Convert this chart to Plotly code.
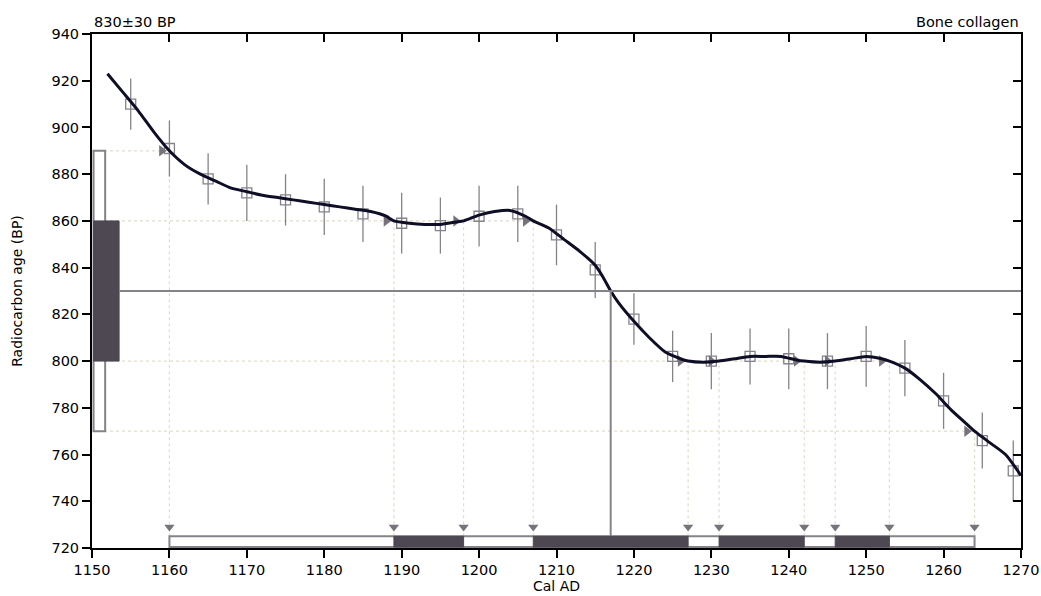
import plotly.graph_objects as go

# ---- data ----
curve_x = [1152, 1154, 1156, 1158, 1160, 1162, 1164, 1166, 1168, 1170, 1172, 1174, 1176, 1178, 1180,
           1182, 1184, 1186, 1188, 1189, 1191, 1193, 1195, 1197, 1198, 1200, 1202, 1204, 1206, 1207,
           1209, 1211, 1213, 1215, 1216, 1217, 1218, 1220, 1222, 1224, 1226, 1227, 1229, 1231, 1233,
           1235, 1237, 1239, 1241, 1242, 1244, 1246, 1248, 1250, 1252, 1253, 1255, 1257, 1259, 1261,
           1263, 1264, 1266, 1268, 1270]
curve_y = [923, 915, 907, 898, 890, 884, 880, 877, 874, 872.5, 871, 870, 869, 868, 867,
           866, 865, 864, 862, 860, 859, 858.5, 858.5, 859.5, 860, 862.5, 864, 864.5, 862, 860,
           857, 852, 847, 841, 836, 830, 825, 817, 810, 804, 801, 800, 799.5, 800, 801,
           802, 802, 802, 800.5, 800, 799.5, 800, 801, 802, 801, 800, 797, 792, 786, 779,
           773, 770, 765, 760, 751]

pt_x = [1155, 1160, 1165, 1170, 1175, 1180, 1185, 1190, 1195, 1200, 1205, 1210,
        1215, 1220, 1225, 1230, 1235, 1240, 1245, 1250, 1255, 1260, 1265, 1269]
pt_y = [910, 891, 878, 872, 869, 866, 863, 859, 858, 862, 863, 854,
        839, 818, 802, 800, 802, 801, 800, 802, 797, 783, 766, 753]
pt_err = [11, 12, 11, 12, 11, 12, 12, 13, 12, 13, 12, 13,
          12, 11, 11, 12, 12, 13, 12, 13, 12, 12, 12, 13]

c14_age = 830
sigma1 = [800, 860]
sigma2 = [770, 890]
calib_median = 1217

# boundaries where the curve crosses the sigma levels (x, level)
bound_x = [1160, 1189, 1198, 1207, 1227, 1231, 1242, 1246, 1253, 1264]
bound_y = [890, 860, 860, 860, 800, 800, 800, 800, 800, 770]

range2 = [1160, 1264]
range1 = [[1189, 1198], [1207, 1227], [1231, 1242], [1246, 1253]]

x_ticks = [1150, 1160, 1170, 1180, 1190, 1200, 1210, 1220, 1230, 1240, 1250, 1260, 1270]
y_ticks = [720, 740, 760, 780, 800, 820, 840, 860, 880, 900, 920, 940]

DARK = "#4d4852"
GRAY = "#86828a"
DOT = "#e2decb"

fig = go.Figure()

shapes = []
# dotted guide lines
for bx, by in zip(bound_x, bound_y):
    shapes.append(dict(type="line", x0=bx, x1=bx, y0=725, y1=by,
                       line=dict(color=DOT, width=1.2, dash="dot"), layer="below"))
for lvl, x_end in [(sigma2[1], bound_x[0]), (sigma1[1], bound_x[3]),
                   (sigma1[0], bound_x[8]), (sigma2[0], bound_x[9])]:
    shapes.append(dict(type="line", x0=1150, x1=x_end, y0=lvl, y1=lvl,
                       line=dict(color=DOT, width=1.2, dash="dot"), layer="below"))

# left probability boxes
shapes.append(dict(type="rect", x0=1150.2, x1=1151.7, y0=sigma2[0], y1=sigma2[1],
                   line=dict(color=GRAY, width=2), fillcolor="white"))
shapes.append(dict(type="rect", x0=1150.2, x1=1153.5, y0=sigma1[0], y1=sigma1[1],
                   line=dict(color=DARK, width=1), fillcolor=DARK))
# horizontal age line and vertical median line
shapes.append(dict(type="line", x0=1153.5, x1=1270, y0=c14_age, y1=c14_age,
                   line=dict(color=GRAY, width=2)))
shapes.append(dict(type="line", x0=calib_median, x1=calib_median, y0=720, y1=c14_age,
                   line=dict(color=GRAY, width=2)))
# bottom range bars
shapes.append(dict(type="rect", x0=range2[0], x1=range2[1], y0=720.4, y1=725,
                   line=dict(color=GRAY, width=2), fillcolor="white"))
for a, b in range1:
    shapes.append(dict(type="rect", x0=a, x1=b, y0=720.4, y1=725,
                       line=dict(color=DARK, width=1), fillcolor=DARK))

# error bars
fig.add_trace(go.Scatter(
    x=pt_x, y=pt_y, mode="markers",
    marker=dict(symbol="square-open", size=10, color=GRAY, line=dict(width=1.3, color=GRAY)),
    error_y=dict(type="data", array=pt_err, color=GRAY, thickness=1.3, width=0),
    showlegend=False, hoverinfo="skip"))

# right-pointing triangles at curve crossings
fig.add_trace(go.Scatter(
    x=[bx - 1.0 for bx in bound_x], y=bound_y, mode="markers",
    marker=dict(symbol="triangle-right", size=10, color="#77727c"),
    showlegend=False, hoverinfo="skip"))
# down-pointing triangles above bottom bar
fig.add_trace(go.Scatter(
    x=bound_x, y=[729] * len(bound_x), mode="markers",
    marker=dict(symbol="triangle-down", size=9, color="#77727c"),
    showlegend=False, hoverinfo="skip"))

# calibration curve
fig.add_trace(go.Scatter(
    x=curve_x, y=curve_y, mode="lines",
    line=dict(color="#0e0e26", width=3, shape="spline", smoothing=0.6),
    showlegend=False, hoverinfo="skip"))

# invisible trace for mirrored axes
fig.add_trace(go.Scatter(x=[1150], y=[720], xaxis="x2", yaxis="y2", mode="markers",
                         marker=dict(opacity=0), showlegend=False, hoverinfo="skip"))

FONT = "DejaVu Sans, sans-serif"
fig.update_layout(
    width=1041, height=596,
    margin=dict(l=92, r=20, t=34, b=48),
    plot_bgcolor="white", paper_bgcolor="white",
    font=dict(family=FONT, size=14, color="black"),
    shapes=shapes,
    xaxis=dict(range=[1150, 1270], tickvals=x_ticks, ticks="outside", ticklen=8, tickwidth=2,
               tickcolor="black", showline=True, linecolor="black", linewidth=2,
               showgrid=False, zeroline=False, automargin=False,
               tickfont=dict(size=14.5),
               title=dict(text="Cal AD", font=dict(size=14), standoff=1)),
    yaxis=dict(range=[720, 940], tickvals=y_ticks, ticks="outside", ticklen=8, tickwidth=2,
               tickcolor="black", showline=True, linecolor="black", linewidth=2,
               showgrid=False, zeroline=False, automargin=False,
               tickfont=dict(size=14.5),
               title=dict(text="Radiocarbon age (BP)", font=dict(size=14), standoff=26)),
    xaxis2=dict(range=[1150, 1270], tickvals=x_ticks, overlaying="x", side="top",
                ticks="inside", ticklen=8, tickwidth=2, tickcolor="black",
                showticklabels=False, showline=True, linecolor="black", linewidth=2,
                showgrid=False, zeroline=False, automargin=False),
    yaxis2=dict(range=[720, 940], tickvals=y_ticks, overlaying="y", side="right",
                ticks="inside", ticklen=8, tickwidth=2, tickcolor="black",
                showticklabels=False, showline=True, linecolor="black", linewidth=2,
                showgrid=False, zeroline=False, automargin=False),
    annotations=[
        dict(text="830±30 BP", xref="paper", yref="paper", x=0, y=1, xanchor="left",
             yanchor="bottom", yshift=2, showarrow=False, font=dict(size=14.5)),
        dict(text="Bone collagen", xref="paper", yref="paper", x=1, y=1, xanchor="right",
             yanchor="bottom", yshift=2, showarrow=False, font=dict(size=14.5)),
    ],
)

fig.write_html("out.html", config={"displayModeBar": False},
               post_script="document.body.style.margin='0';")
